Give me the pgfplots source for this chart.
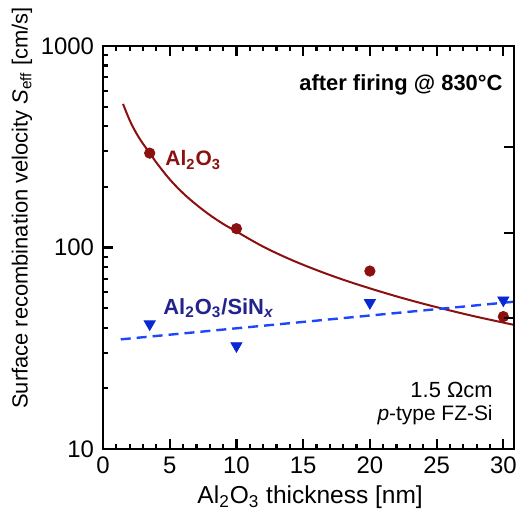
\documentclass[border=0pt]{standalone}
\usepackage{pgfplots}
\pgfplotsset{compat=1.18}
\usepackage{fontspec}
\setmainfont{Liberation Sans}
\definecolor{dred}{RGB}{139,16,16}
\definecolor{mblue}{RGB}{10,40,210}
\definecolor{lblue}{RGB}{30,70,250}
\definecolor{tblue}{RGB}{35,35,140}
\begin{document}
\begin{tikzpicture}
\begin{axis}[
  name=ax,
  scale only axis, width=205.5bp, height=201.5bp,
  xmin=0, xmax=30.8, ymin=10, ymax=1000, ymode=log,
  xtick={0,5,...,30}, minor x tick num=4,
  ytick={10,100,1000}, yticklabels={10,100,1000},
  minor ytick={20,30,40,50,60,70,80,90,200,300,400,500,600,700,800,900},
  xtick pos=both, ytick pos=left, tick align=inside,
  major tick length=5bp, minor tick length=2.5bp,
  axis line style={line width=1.4bp}, every tick/.style={line width=1.1bp, black},
  /pgf/number format/assume math mode=true,
  tick label style={font=\fontsize{12}{14}\selectfont},
  xticklabel style={yshift=-0.5bp},
  yticklabel style={xshift=-1bp},
  xlabel={Al\textsubscript{2}O\textsubscript{3} thickness [nm]},
  ylabel={Surface recombination velocity \textit{S}\textsubscript{eff} [cm/s]},
  xlabel style={font=\fontsize{12.3}{14}\selectfont, at={(axis description cs:0.504,-0.119)}, anchor=center},
  ylabel style={font=\fontsize{11}{13}\selectfont, at={(axis description cs:-0.197,0.598)}, anchor=center},
  clip=false,
]
\addplot[dred, line width=1bp, smooth, tension=0.6] coordinates {
(1.5,516) (2,428) (2.5,369) (3,327) (3.5,295) (4,264) (5,218) (6,186) (7,163) (8,145) (9,131)
(10,120) (12,101) (14,87.5) (16,77.3) (18,69.2) (20,62.7) (22,57.2) (24,52.6) (26,48.7) (28,45.3) (30.8,41.3)};
\addplot[lblue, line width=1.2bp, dash pattern=on 5bp off 3bp] coordinates {(1.33,35.0) (30.8,53.8)};
\addplot[only marks, mark=*, mark size=2.6bp, dred] coordinates {(3.5,294) (10,124) (20,76.4) (30,45.4)};
\addplot[only marks, mark=triangle*, mark size=3.2bp, mblue, mark options={rotate=180}] coordinates {(3.5,41.7) (10,32.5) (20,53.2) (30,54.8)};
\node[anchor=east, inner sep=0pt, font=\fontsize{11}{13}\selectfont\bfseries] at (axis description cs:0.973,0.903) {after firing @ 830°C};
\node[anchor=west, inner sep=0pt, font=\fontsize{10.5}{12}\selectfont\bfseries, text=dred] at (axis description cs:0.151,0.717) {Al\textsubscript{2}O\textsubscript{3}};
\node[anchor=west, inner sep=0pt, font=\fontsize{11}{13}\selectfont\bfseries, text=tblue] at (axis description cs:0.146,0.350) {Al\textsubscript{2}O\textsubscript{3}/SiN\textsubscript{\itshape x}};
\node[anchor=east, inner sep=0pt, font=\fontsize{11}{13}\selectfont] at (axis description cs:0.949,0.146) {1.5 Ωcm};
\node[anchor=east, inner sep=0pt, font=\fontsize{10.5}{12}\selectfont] at (axis description cs:0.949,0.084) {\textit{p}-type FZ-Si};
\end{axis}
\begin{axis}[
  scale only axis, width=205.5bp, height=201.5bp,
  xmin=0, xmax=30.8, ymin=10, ymax=1000, ymode=log,
  axis x line=none, axis y line*=right,
  ytick={44.7,118,316}, yticklabels={}, minor ytick={},
  tick align=inside, major tick length=5bp,
  axis line style={line width=1.4bp, -}, every tick/.style={line width=1.1bp, black},
]
\end{axis}
\pgfresetboundingbox
\path ([shift={(-51.5bp,-31.5bp)}]ax.south west) rectangle ([shift={(1.5bp,23bp)}]ax.north east);
\end{tikzpicture}
\end{document}
